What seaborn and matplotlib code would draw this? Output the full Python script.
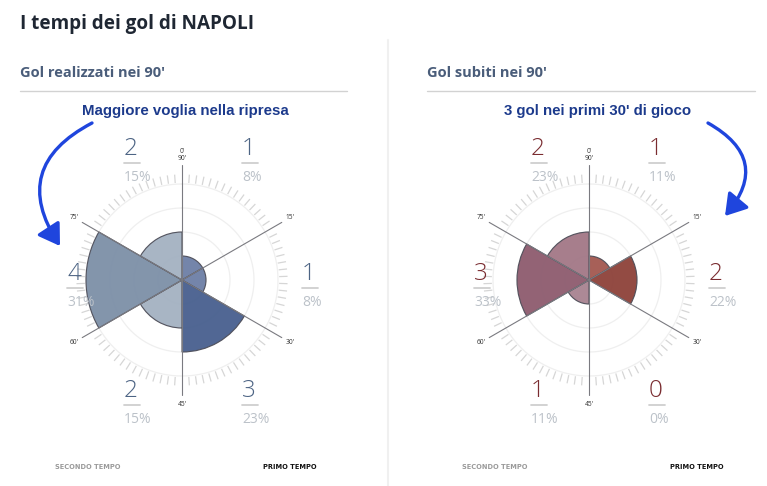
import numpy as np
import pandas as pd
import matplotlib
matplotlib.use("Agg")
import matplotlib.pyplot as plt
from matplotlib.lines import Line2D
from matplotlib.patches import FancyArrowPatch
import seaborn as sns

# ---------------- data ----------------
segments = ["0-15'", "15-30'", "30-45'", "45-60'", "60-75'", "75-90'"]
minute_marks = ["0'\n90'", "15'", "30'", "45'", "60'", "75'"]
scored = [1, 1, 3, 2, 4, 2]
conceded = [1, 2, 0, 1, 3, 2]
scored_pct = ["8%", "8%", "23%", "15%", "31%", "15%"]
conceded_pct = ["11%", "22%", "0%", "11%", "33%", "23%"]
scored_colors = ["#6d7fa6", "#6d7fa6", "#475f8e", "#a3b1c1", "#7c8fa7", "#a3b1c1"]
conceded_colors = ["#a2574f", "#8d4139", "#8d4139", "#a88391", "#8d5b6e", "#a27786"]

title = "I tempi dei gol di NAPOLI"
subtitles = ["Gol realizzati nei 90'", "Gol subiti nei 90'"]
notes = ["Maggiore voglia nella ripresa", "3 gol nei primi 30' di gioco"]

sns.set_style("white")
plt.rcParams["font.family"] = ["Open Sans", "DejaVu Sans"]

W, H = 767, 486
fig = plt.figure(figsize=(W / 100, H / 100), dpi=100)
fig.patch.set_facecolor("white")


def fx(x):
    return x / W


def fy(y):
    return 1 - y / H


R_PX = 120  # axes radius in pixels -> 5 units => 24 px per goal


def wheel(cx, cy, values, colors, pcts, num_color):
    ax = fig.add_axes([fx(cx - R_PX), (H - cy - R_PX) / H, 2 * R_PX / W, 2 * R_PX / H],
                      projection="polar")
    ax.set_theta_zero_location("N")
    ax.set_theta_direction(-1)
    theta = np.deg2rad(30 + 60 * np.arange(len(values)))
    df = pd.DataFrame({"theta": theta, "gol": values, "seg": segments})
    # faint guide circles
    tt = np.linspace(0, 2 * np.pi, 361)
    for r in [1, 2, 3, 4]:
        ax.plot(tt, np.full_like(tt, r), color="#efefef", lw=0.9, zorder=1)
    # minute ticks
    mins = [m for m in range(90) if m % 15]
    ax.vlines(np.deg2rad(np.array(mins) * 4), 4.05, 4.4, color="#d6d6d6", lw=0.9, zorder=1)
    sns.barplot(data=df, x="theta", y="gol", hue="seg",
                palette=dict(zip(segments, colors)), saturation=1, native_scale=True,
                width=1.0, dodge=False, errorbar=None, legend=False, orient="x",
                ax=ax, edgecolor="#4d4d58", linewidth=0.8, alpha=0.95, zorder=3)
    # dividing lines
    for k in range(6):
        th = np.deg2rad(60 * k)
        ax.plot([th, th], [0, 4.8], color="#7a7a80", lw=0.8, zorder=5)
        ax.text(th, 5.2, minute_marks[k], ha="center", va="center", fontsize=4.8,
                color="#333333", linespacing=1.0)
    ax.set_ylim(0, 5)
    ax.set_xlabel("")
    ax.set_ylabel("")
    ax.set_axis_off()

    offsets = [(60, -125), (120, 0), (60, 117), (-58, 117), (-115, 0), (-58, -125)]
    for v, p, (dx, dy) in zip(values, pcts, offsets):
        x0 = cx + dx
        y0 = cy + dy
        fig.text(fx(x0), fy(y0), str(v), ha="left", va="baseline", fontsize=17.5,
                 fontweight="light", color=num_color)
        fig.add_artist(Line2D([fx(x0), fx(x0 + 16)], [fy(y0 + 8), fy(y0 + 8)],
                              color="#cfcfcf", lw=1.3, transform=fig.transFigure))
        fig.text(fx(x0), fy(y0 + 26), p, ha="left", va="baseline", fontsize=10,
                 color="#bcc2c9")
    return ax


wheel(182, 280, scored, scored_colors, scored_pct, "#4d6484")
wheel(589, 280, conceded, conceded_colors, conceded_pct, "#7a2c30")

# ---------------- texts ----------------
fig.text(fx(20), fy(29), title, fontsize=13.6, fontweight="bold", color="#1f2733",
         ha="left", va="baseline")
for x0, x1, s in [(20, 347, subtitles[0]), (427, 755, subtitles[1])]:
    fig.text(fx(x0), fy(77), s, fontsize=10.5, fontweight="bold", color="#4a5d7a",
             ha="left", va="baseline")
    fig.add_artist(Line2D([fx(x0), fx(x1)], [fy(91), fy(91)], color="#d2d2d2", lw=1.0,
                          transform=fig.transFigure))

fig.add_artist(Line2D([fx(388), fx(388)], [fy(40), fy(486)], color="#f0f0f0", lw=1.5,
                      transform=fig.transFigure))

for xc, s in [(185, notes[0]), (598, notes[1])]:
    fig.text(fx(xc), fy(115), s, fontsize=10.8, fontweight="bold", color="#1c3a8c",
             ha="center", va="baseline", family=["Liberation Sans", "DejaVu Sans"])

# arrows
arrow_color = "#1f45dd"
a1 = FancyArrowPatch((fx(92), fy(123)), (fx(60), fy(246)), transform=fig.transFigure,
                     connectionstyle="arc3,rad=0.55", arrowstyle="-|>,head_length=6,head_width=3.8",
                     color=arrow_color, lw=2.4, mutation_scale=2.1, shrinkA=0, shrinkB=0)
a2 = FancyArrowPatch((fx(708), fy(123)), (fx(725), fy(216)), transform=fig.transFigure,
                     connectionstyle="arc3,rad=-0.6", arrowstyle="-|>,head_length=6,head_width=3.8",
                     color=arrow_color, lw=2.4, mutation_scale=2.1, shrinkA=0, shrinkB=0)
fig.add_artist(a1)
fig.add_artist(a2)

# half-time labels
for xs, xp in [(55, 263), (462, 670)]:
    fig.text(fx(xs), fy(469), "SECONDO TEMPO", fontsize=4.8, fontweight="bold", color="#9a9a9a",
             ha="left", va="baseline", family=["DejaVu Sans"])
    fig.text(fx(xp), fy(469), "PRIMO TEMPO", fontsize=4.8, fontweight="bold", color="#111111",
             ha="left", va="baseline", family=["DejaVu Sans"])

fig.savefig("out.png", dpi=100, facecolor="white")
